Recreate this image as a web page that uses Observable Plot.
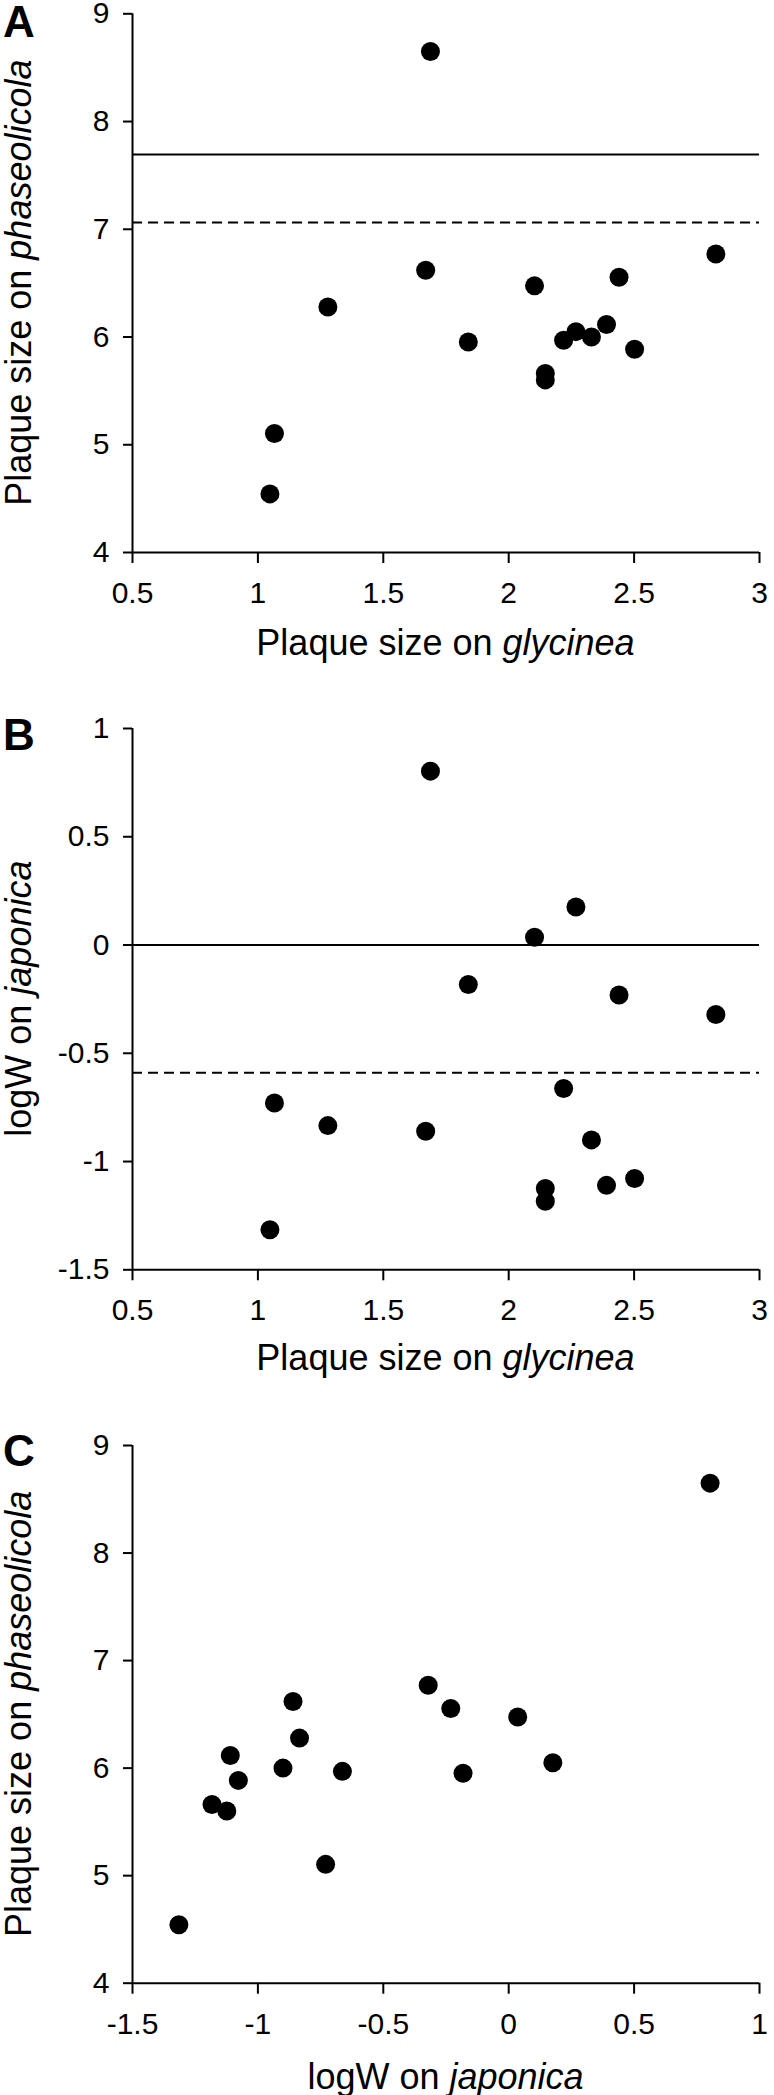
<!DOCTYPE html>
<html><head><meta charset="utf-8">
<script src="https://cdn.jsdelivr.net/npm/d3@7"></script>
<script src="https://cdn.jsdelivr.net/npm/@observablehq/plot@0.6"></script>
<style>
body{margin:0;background:#fff}
#chart svg{display:block}
#chart svg g[aria-label$="tick label"] text{font-size:30px}
</style>
</head><body><div id="chart"></div>
<script>
// Plaque size on glycinea, plaque size on phaseolicola, logW on japonica (one entry per phage)
const glycinea     = [1.048, 1.066, 1.279, 1.669, 1.688, 1.839, 2.103, 2.146, 2.146, 2.219, 2.268, 2.330, 2.390, 2.440, 2.502, 2.826];
const phaseolicola = [4.544, 5.105, 6.279, 6.620, 8.650, 5.953, 6.475, 5.662, 5.602, 5.970, 6.050, 6.000, 6.117, 6.555, 5.886, 6.770];
const japonica     = [-1.315, -0.730, -0.834, -0.860, 0.803, -0.182, 0.036, -1.183, -1.124, -0.663, 0.176, -0.900, -1.110, -0.231, -1.078, -0.321];

const ticksGly = [0.5, 1, 1.5, 2, 2.5, 3];
const ticksPha = [4, 5, 6, 7, 8, 9];
const ticksJap = [-1.5, -1, -0.5, 0, 0.5, 1];

const refPhaSolid = [7.695], refPhaDashed = [7.062];
const refJapSolid = [0], refJapDashed = [-0.59];

const data = glycinea.map((g, i) => ({g, p: phaseolicola[i], j: japonica[i]}));

const FONT = "Liberation Sans, Arial, Helvetica, sans-serif";

function panel(o) {
  const xd = [o.xTicks[0], o.xTicks[o.xTicks.length - 1]];
  const yd = [o.yTicks[0], o.yTicks[o.yTicks.length - 1]];
  const marks = [];
  if (o.solid) marks.push(Plot.ruleY(o.solid, {stroke: "black", strokeWidth: 2}));
  if (o.dashed) marks.push(Plot.ruleY(o.dashed, {stroke: "black", strokeWidth: 2, strokeDasharray: "10,6"}));
  marks.push(
    Plot.ruleX([xd[0]], {stroke: "black", strokeWidth: 2}),
    Plot.ruleY([yd[0]], {stroke: "black", strokeWidth: 2}),
    Plot.axisY({ticks: o.yTicks, tickSize: 9, tickPadding: 14, fontSize: 30, strokeWidth: 2, tickFormat: d => String(d), label: null}),
    Plot.axisX({ticks: o.xTicks, tickSize: 11, tickPadding: 18, fontSize: 30, strokeWidth: 2, tickFormat: d => String(d), label: null}),
    Plot.dot(data, {x: o.xKey, y: o.yKey, r: 9.5, fill: "black", stroke: "none"})
  );
  const svg = Plot.plot({
    width: 774, height: o.height,
    marginLeft: 132, marginRight: 15, marginTop: o.marginTop, marginBottom: o.marginBottom,
    x: {domain: xd}, y: {domain: yd},
    style: {fontFamily: FONT, fontSize: "30px", background: "white", color: "black", overflow: "visible"},
    marks
  });
  const s = d3.select(svg);
  const fx0 = 132, fx1 = 774 - 15;
  const fy0 = o.marginTop, fy1 = o.height - o.marginBottom;
  // panel letter
  s.append("text").attr("x", 3).attr("y", o.letterY).attr("text-anchor", "start")
    .style("font-size", "44px").style("font-weight", "bold")
    .attr("font-family", FONT).attr("fill", "black").text(o.letter);
  // x title
  const xt = s.append("text").attr("x", (fx0 + fx1) / 2).attr("y", fy1 + o.xTitleGap).attr("text-anchor", "middle")
    .style("font-size", "36px").attr("font-family", FONT).attr("fill", "black");
  xt.append("tspan").text(o.xTitle[0]);
  xt.append("tspan").style("font-style", "italic").text(o.xTitle[1]);
  // y title
  const yt = s.append("text").attr("transform", `translate(31,${(fy0 + fy1) / 2}) rotate(-90)`).attr("text-anchor", "middle")
    .style("font-size", "36px").attr("font-family", FONT).attr("fill", "black");
  yt.append("tspan").text(o.yTitle[0]);
  yt.append("tspan").style("font-style", "italic").text(o.yTitle[1]);
  return svg;
}

const chart = document.getElementById("chart");
chart.append(panel({
  xKey: "g", yKey: "p", xTicks: ticksGly, yTicks: ticksPha,
  solid: refPhaSolid, dashed: refPhaDashed,
  height: 690, marginTop: 13.3, marginBottom: 138,
  letter: "A", letterY: 37, xTitleGap: 103,
  xTitle: ["Plaque size on ", "glycinea"], yTitle: ["Plaque size on ", "phaseolicola"]
}));
chart.append(panel({
  xKey: "g", yKey: "j", xTicks: ticksGly, yTicks: ticksJap,
  solid: refJapSolid, dashed: refJapDashed,
  height: 700, marginTop: 38, marginBottom: 120.7,
  letter: "B", letterY: 60, xTitleGap: 101,
  xTitle: ["Plaque size on ", "glycinea"], yTitle: ["logW on ", "japonica"]
}));
chart.append(panel({
  xKey: "j", yKey: "p", xTicks: ticksJap, yTicks: ticksPha,
  solid: null, dashed: null,
  height: 705, marginTop: 55, marginBottom: 112.3,
  letter: "C", letterY: 76, xTitleGap: 106,
  xTitle: ["logW on ", "japonica"], yTitle: ["Plaque size on ", "phaseolicola"]
}));
</script>
</body></html>
